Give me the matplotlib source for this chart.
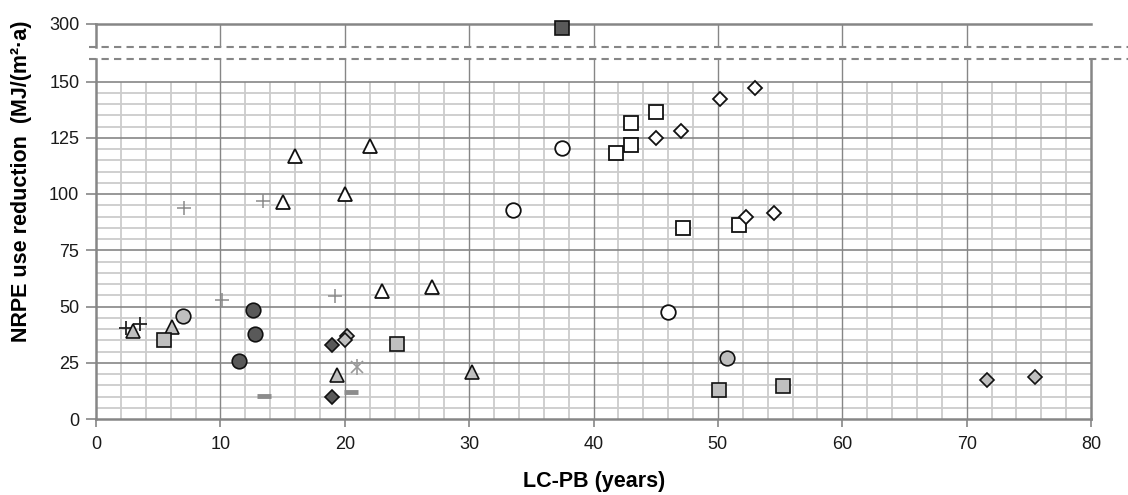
import matplotlib
matplotlib.use("Agg")
import matplotlib.pyplot as plt
from matplotlib.lines import Line2D

plt.rcParams["font.family"] = ["Liberation Sans", "DejaVu Sans"]

# ---- data (LC-PB in years, NRPE use reduction in MJ/(m2.a)) ----
plus_dark_x = [2.4, 3.5]
plus_dark_y = [40.5, 42.2]

plus_gray_x = [7.1, 10.1, 13.4, 19.2]
plus_gray_y = [93.8, 53.0, 96.7, 54.8]

tri_gray_x = [3.0, 6.1, 19.4, 30.2]
tri_gray_y = [39.3, 41.0, 19.7, 20.7]

circ_gray_x = [7.0, 50.7]
circ_gray_y = [45.6, 27.1]

sq_gray_x = [5.5, 24.2, 50.1, 55.2]
sq_gray_y = [35.0, 33.4, 13.1, 14.5]

circ_dark_x = [11.5, 12.6, 12.8]
circ_dark_y = [25.9, 48.4, 38.0]

dia_dark_x = [19.0, 19.0]
dia_dark_y = [32.8, 10.0]

dia_gray_x = [20.2, 20.0, 71.6, 75.5]
dia_gray_y = [37.0, 35.0, 17.3, 18.7]

star_x = [21.0]
star_y = [22.9]

dash_x = [13.5, 20.5]
dash_y = [10.3, 12.0]

tri_white_x = [16.0, 22.0, 15.0, 20.0, 23.0, 27.0]
tri_white_y = [116.7, 121.3, 96.6, 99.8, 57.0, 58.6]

circ_white_x = [37.5, 33.5, 46.0]
circ_white_y = [120.3, 93.0, 47.4]

sq_white_x = [41.8, 43.0, 43.0, 45.0, 47.2, 51.7]
sq_white_y = [118.4, 121.9, 131.6, 136.6, 84.8, 86.3]

dia_white_x = [45.0, 47.0, 50.2, 53.0, 52.3, 54.5]
dia_white_y = [124.9, 128.2, 142.3, 147.2, 89.6, 91.4]

outlier_x = [37.5]
outlier_y = [298.3]

x_ticks = [0, 10, 20, 30, 40, 50, 60, 70, 80]
y_ticks = [0, 25, 50, 75, 100, 125, 150]

DARK = "#595959"
LIGHT = "#bfbfbf"
GRID_MAJ = "#868686"
GRID_MIN = "#cccccc"

W, H = 1128, 495
fig = plt.figure(figsize=(W / 100, H / 100), dpi=100)

x0, x1 = 96 / W, 1091 / W
ax = fig.add_axes([x0, (H - 419) / H, x1 - x0, 360 / H])
ax_top = fig.add_axes([x0, (H - 47) / H, x1 - x0, 23 / H])

# ---- lower panel: grid drawn by hand so minor lines stop at 150 ----
ax.set_xlim(0, 80)
ax.set_ylim(0, 160)
for xv in range(2, 80, 2):
    if xv % 10:
        ax.vlines(xv, 0, 150, color=GRID_MIN, lw=1.3, zorder=1)
for yv in range(5, 150, 5):
    if yv % 25:
        ax.hlines(yv, 0, 80, color=GRID_MIN, lw=1.3, zorder=1)
for yv in y_ticks[1:]:
    ax.hlines(yv, 0, 80, color=GRID_MAJ, lw=1.2, zorder=2)
for xv in x_ticks[1:-1]:
    ax.vlines(xv, 0, 160, color=GRID_MAJ, lw=1.0, zorder=2)

for s in ("left", "right", "bottom"):
    ax.spines[s].set_color(GRID_MAJ)
    ax.spines[s].set_linewidth(1.8)
ax.spines["top"].set_visible(False)
ax.set_xticks(x_ticks)
ax.set_yticks(y_ticks)
ax.tick_params(axis="both", direction="out", color=GRID_MAJ, width=1.2,
               labelsize=13, labelcolor="#1a1a1a")
ax.tick_params(axis="x", length=6, pad=6)
ax.tick_params(axis="y", length=7, pad=5)

# ---- upper panel (broken axis) ----
ax_top.set_xlim(0, 80)
ax_top.set_ylim(290, 300)
for xv in x_ticks[1:-1]:
    ax_top.vlines(xv, 290, 300, color=GRID_MAJ, lw=1.0, zorder=2)
ax_top.spines["right"].set_visible(False)
ax_top.spines["bottom"].set_visible(False)
for s in ("left", "top"):
    ax_top.spines[s].set_color(GRID_MAJ)
    ax_top.spines[s].set_linewidth(1.8)
ax_top.set_xticks([])
ax_top.set_yticks([300])
ax_top.tick_params(axis="y", direction="out", length=7, pad=5, color=GRID_MAJ,
                   width=1.2, labelsize=13, labelcolor="#1a1a1a")

# break marks
for yy in (47, 59):
    fig.add_artist(Line2D([89 / W, 1.0], [(H - yy) / H] * 2, color=GRID_MAJ,
                          lw=1.5, ls=(0, (3.5, 2.5)), transform=fig.transFigure))

# ---- markers ----
kw = dict(ls="none", zorder=5, clip_on=False)
ax.plot(plus_dark_x, plus_dark_y, marker="+", ms=9.5, mew=1.3, color="#222222", **kw)
ax.plot(plus_gray_x, plus_gray_y, marker="+", ms=9.5, mew=1.1, color="#8a8a8a", **kw)
ax.plot(tri_gray_x, tri_gray_y, marker="^", ms=10.5, mfc=LIGHT, mec="#111111", mew=1.2, **kw)
ax.plot(circ_gray_x, circ_gray_y, marker="o", ms=10.5, mfc=LIGHT, mec="#111111", mew=1.2, **kw)
ax.plot(sq_gray_x, sq_gray_y, marker="s", ms=10, mfc=LIGHT, mec="#111111", mew=1.2, **kw)
ax.plot(circ_dark_x, circ_dark_y, marker="o", ms=10.5, mfc=DARK, mec="#111111", mew=1.2, **kw)
ax.plot(dia_dark_x, dia_dark_y, marker="D", ms=7, mfc=DARK, mec="#111111", mew=1.2, **kw)
ax.plot(dia_gray_x, dia_gray_y, marker="D", ms=7.2, mfc=LIGHT, mec="#111111", mew=1.2, **kw)
ax.plot(star_x, star_y, marker="x", ms=9, mew=1.2, color="#9a9a9a", **kw)
ax.plot(star_x, star_y, marker="|", ms=11, mew=1.2, color="#9a9a9a", **kw)
ax.plot(dash_x, dash_y, marker="_", ms=10.5, mew=3.5, color="#8c8c8c", **kw)
ax.plot(tri_white_x, tri_white_y, marker="^", ms=10.5, mfc="white", mec="#111111", mew=1.3, **kw)
ax.plot(circ_white_x, circ_white_y, marker="o", ms=10.5, mfc="white", mec="#111111", mew=1.3, **kw)
ax.plot(sq_white_x, sq_white_y, marker="s", ms=10, mfc="white", mec="#111111", mew=1.3, **kw)
ax.plot(dia_white_x, dia_white_y, marker="D", ms=7.2, mfc="white", mec="#111111", mew=1.3, **kw)
ax_top.plot(outlier_x, outlier_y, marker="s", ms=10, mfc=DARK, mec="#111111", mew=1.2, **kw)

# ---- axis titles ----
fig.text(594 / W, (H - 481) / H, "LC-PB (years)", ha="center", va="center",
         fontsize=15.5, fontweight="bold")
fig.text(22 / W, (H - 342) / H, "NRPE use reduction  (MJ/(m²·a)", rotation=90,
         ha="center", va="bottom", fontsize=15.5, fontweight="bold")

fig.savefig("out.png", dpi=100)
